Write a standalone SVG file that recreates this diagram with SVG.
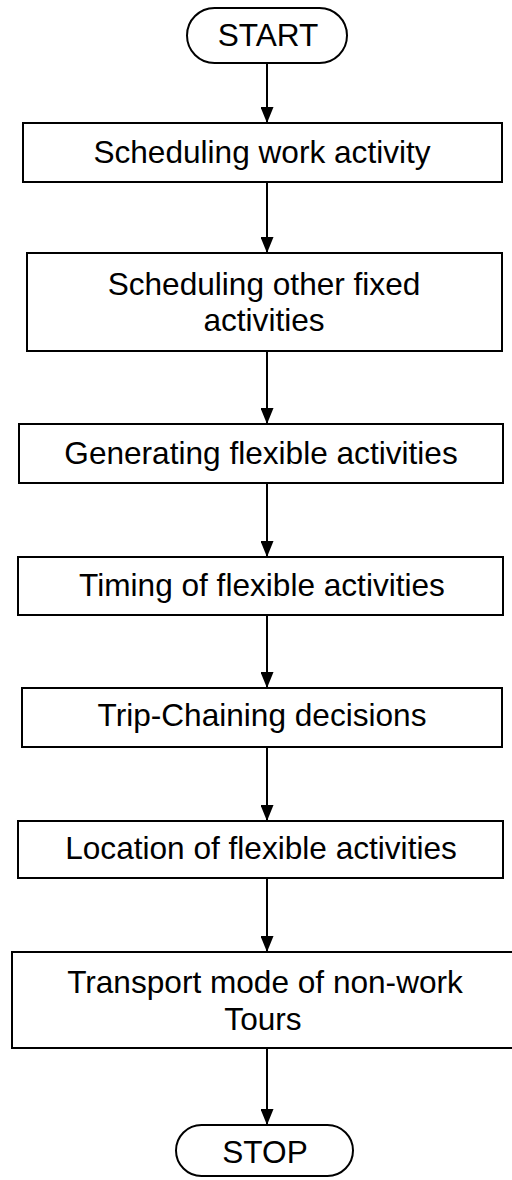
<svg xmlns="http://www.w3.org/2000/svg" width="512" height="1180" viewBox="0 0 512 1180">
  <style>
    .box { fill: #ffffff; stroke: #000000; stroke-width: 2; }
    .lbl { font-family: "Liberation Sans", Arial, sans-serif; font-size: 31.6px; fill: #000000; text-anchor: middle; }
    .edge { stroke: #000000; stroke-width: 2; fill: none; marker-end: url(#arrow); }
  </style>
  <defs>
    <marker id="arrow" markerUnits="userSpaceOnUse" markerWidth="16" markerHeight="13" refX="16" refY="6.5" orient="auto">
      <path d="M0,0 L16,6.5 L0,13 Z" fill="#000000"/>
    </marker>
  </defs>
  <rect width="512" height="1180" fill="#ffffff"/>

  <g id="connectors">
    <line class="edge" x1="267" y1="63" x2="267" y2="123"/>
    <line class="edge" x1="267" y1="182" x2="267" y2="253"/>
    <line class="edge" x1="267" y1="351" x2="267" y2="424"/>
    <line class="edge" x1="267" y1="483" x2="267" y2="557"/>
    <line class="edge" x1="267" y1="615" x2="267" y2="688"/>
    <line class="edge" x1="267" y1="747" x2="267" y2="821"/>
    <line class="edge" x1="267" y1="878" x2="267" y2="952"/>
    <line class="edge" x1="267" y1="1048" x2="267" y2="1125"/>
  </g>

  <g id="start">
    <rect class="box" x="187" y="8" width="160" height="55" rx="27.5" ry="27.5"/>
    <text class="lbl" x="268" y="46">START</text>
  </g>

  <g id="work">
    <rect class="box" x="23" y="123" width="479" height="59"/>
    <text class="lbl" x="262" y="163">Scheduling work activity</text>
  </g>

  <g id="fixed">
    <rect class="box" x="27" y="253" width="475" height="98"/>
    <text class="lbl" x="264" y="295">Scheduling other fixed</text>
    <text class="lbl" x="264" y="331">activities</text>
  </g>

  <g id="generating">
    <rect class="box" x="19" y="424" width="484" height="59"/>
    <text class="lbl" x="261" y="464">Generating flexible activities</text>
  </g>

  <g id="timing">
    <rect class="box" x="18" y="557" width="485" height="58"/>
    <text class="lbl" x="262" y="596">Timing of flexible activities</text>
  </g>

  <g id="chaining">
    <rect class="box" x="22" y="688" width="480" height="59"/>
    <text class="lbl" x="262" y="726">Trip-Chaining decisions</text>
  </g>

  <g id="location">
    <rect class="box" x="18" y="821" width="485" height="57"/>
    <text class="lbl" x="261" y="859">Location of flexible activities</text>
  </g>

  <g id="mode">
    <rect class="box" x="12" y="952" width="502" height="96"/>
    <text class="lbl" x="265" y="993">Transport mode of non-work</text>
    <text class="lbl" x="263" y="1030">Tours</text>
  </g>

  <g id="stop">
    <rect class="box" x="176" y="1125" width="177" height="51" rx="25.5" ry="25.5"/>
    <text class="lbl" x="265" y="1163">STOP</text>
  </g>
</svg>
